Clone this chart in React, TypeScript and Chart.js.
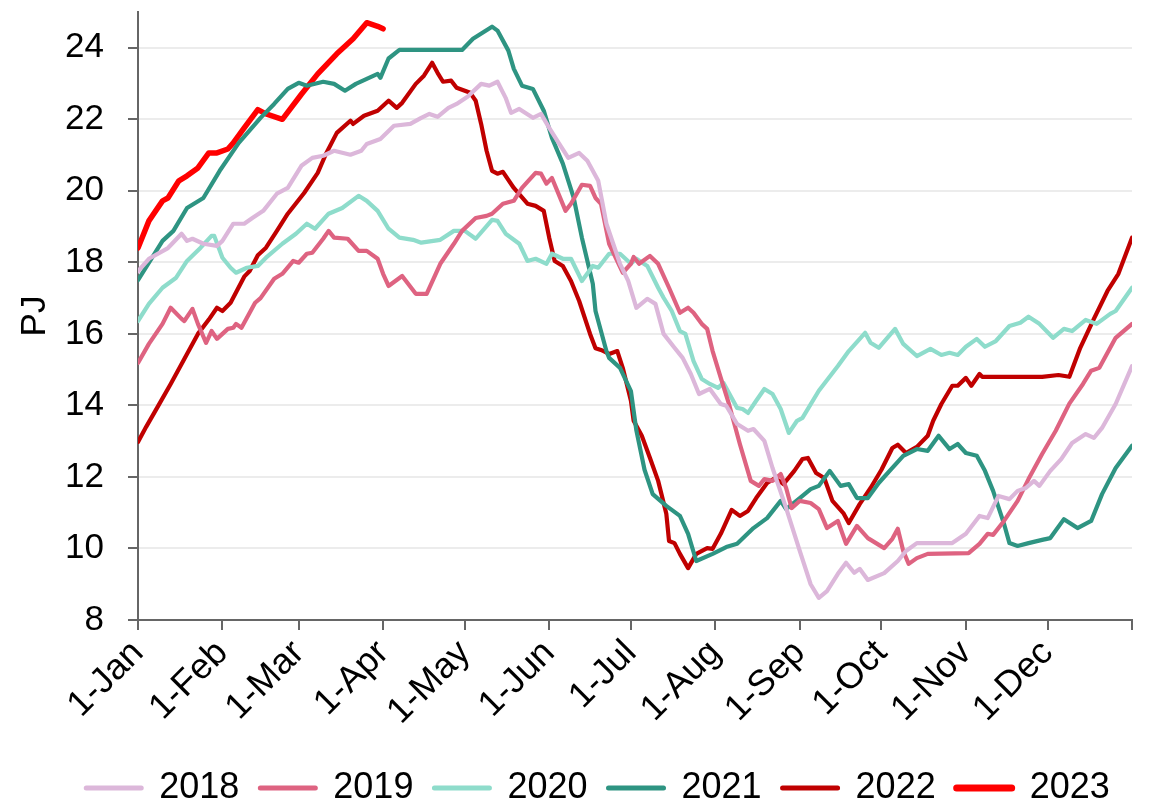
import React, { useEffect, useRef } from 'react';
import { Chart, registerables } from 'chart.js';

Chart.register(...registerables);

const years = ['2018', '2019', '2020', '2021', '2022', '2023'];
const colors = ['#dcb7da', '#de6381', '#8edccb', '#2e9482', '#c00000', '#ff0000'];
const lineWidths = [4.2, 4.2, 4.2, 4.2, 4.2, 5.5];

const monthTicks = [0, 31, 59, 90, 120, 151, 181, 212, 243, 273, 304, 334, 365];
const monthLabels = ['1-Jan', '1-Feb', '1-Mar', '1-Apr', '1-May', '1-Jun', '1-Jul', '1-Aug', '1-Sep', '1-Oct', '1-Nov', '1-Dec', ''];
const yTicks = [8, 10, 12, 14, 16, 18, 20, 22, 24];

const days2018 = [0, 4, 11, 16, 18, 20, 24, 29, 31, 35, 39, 42, 46, 51, 55, 60, 64, 68, 72, 78, 82, 84, 89, 94, 100, 104, 107, 110, 114, 117, 121, 126, 129, 132, 135, 137, 140, 145, 148, 151, 154, 158, 162, 165, 169, 172, 177, 180, 183, 187, 190, 193, 197, 200, 203, 206, 210, 214, 216, 220, 224, 226, 230, 233, 238, 243, 247, 250, 253, 257, 260, 263, 265, 268, 274, 279, 282, 286, 299, 304, 309, 312, 316, 320, 323, 326, 329, 331, 335, 339, 343, 348, 351, 354, 359, 365];
const vals2018 = [17.75, 18.1, 18.4, 18.8, 18.6, 18.66, 18.52, 18.46, 18.6, 19.08, 19.08, 19.24, 19.44, 19.92, 20.08, 20.7, 20.92, 20.98, 21.12, 21.01, 21.12, 21.31, 21.45, 21.82, 21.87, 22.04, 22.15, 22.07, 22.32, 22.43, 22.63, 22.99, 22.94, 23.05, 22.6, 22.18, 22.29, 22.04, 22.15, 21.76, 21.4, 20.92, 21.06, 20.84, 20.28, 19.08, 17.96, 17.48, 16.73, 16.98, 16.84, 16.0, 15.61, 15.33, 14.88, 14.32, 14.46, 14.04, 13.99, 13.48, 13.29, 13.34, 13.01, 12.25, 11.13, 9.93, 9.0, 8.62, 8.81, 9.29, 9.6, 9.32, 9.43, 9.12, 9.31, 9.65, 9.93, 10.15, 10.15, 10.41, 10.91, 10.85, 11.47, 11.38, 11.61, 11.69, 11.89, 11.75, 12.17, 12.5, 12.95, 13.2, 13.09, 13.37, 14.04, 15.1];

const days2019 = [0, 4, 9, 12, 16, 17, 20, 22, 25, 27, 29, 33, 35, 36, 38, 43, 45, 50, 53, 57, 59, 62, 64, 68, 70, 72, 77, 81, 84, 88, 90, 92, 97, 102, 106, 111, 116, 119, 124, 128, 130, 134, 138, 141, 146, 148, 150, 152, 157, 159, 163, 166, 168, 170, 173, 178, 181, 182, 184, 188, 191, 195, 199, 202, 204, 207, 209, 211, 214, 217, 221, 225, 228, 230, 233, 236, 238, 240, 243, 247, 250, 253, 257, 260, 264, 268, 274, 277, 279, 281, 283, 286, 290, 305, 309, 312, 314, 318, 323, 327, 332, 337, 342, 347, 350, 353, 359, 365];
const vals2019 = [15.19, 15.72, 16.28, 16.73, 16.42, 16.36, 16.7, 16.28, 15.75, 16.08, 15.86, 16.14, 16.17, 16.28, 16.17, 16.87, 17.0, 17.54, 17.68, 18.04, 17.99, 18.24, 18.27, 18.66, 18.88, 18.69, 18.66, 18.32, 18.32, 18.1, 17.68, 17.34, 17.62, 17.12, 17.12, 17.96, 18.52, 18.88, 19.24, 19.3, 19.36, 19.64, 19.72, 20.08, 20.5, 20.48, 20.2, 20.36, 19.44, 19.64, 20.17, 20.14, 19.8, 19.64, 18.52, 17.71, 17.96, 18.15, 17.96, 18.18, 17.96, 17.29, 16.59, 16.73, 16.59, 16.28, 16.14, 15.52, 14.77, 14.04, 12.92, 11.89, 11.75, 11.94, 11.89, 12.08, 11.69, 11.13, 11.33, 11.27, 11.1, 10.57, 10.77, 10.13, 10.63, 10.29, 10.01, 10.27, 10.55, 9.93, 9.57, 9.73, 9.85, 9.87, 10.13, 10.41, 10.38, 10.77, 11.33, 11.94, 12.64, 13.29, 14.05, 14.6, 14.97, 15.05, 15.89, 16.28];

const days2020 = [0, 4, 9, 14, 18, 23, 27, 28, 31, 34, 36, 40, 44, 47, 53, 58, 62, 65, 70, 75, 81, 84, 88, 92, 96, 101, 104, 111, 116, 120, 124, 130, 132, 135, 140, 143, 146, 150, 152, 156, 159, 163, 167, 169, 173, 177, 181, 183, 187, 191, 193, 196, 199, 201, 204, 207, 210, 213, 215, 220, 222, 224, 227, 230, 233, 236, 239, 242, 244, 250, 257, 261, 267, 269, 272, 278, 281, 286, 291, 295, 298, 301, 304, 308, 311, 315, 320, 324, 327, 331, 336, 340, 343, 348, 352, 357, 359, 365];
const vals2020 = [16.36, 16.84, 17.29, 17.57, 18.04, 18.41, 18.74, 18.74, 18.13, 17.85, 17.71, 17.85, 17.9, 18.13, 18.52, 18.8, 19.08, 18.94, 19.36, 19.52, 19.86, 19.72, 19.44, 18.94, 18.69, 18.63, 18.55, 18.63, 18.88, 18.88, 18.66, 19.19, 19.16, 18.8, 18.52, 18.04, 18.1, 17.96, 18.24, 18.1, 18.1, 17.48, 17.9, 17.85, 18.24, 18.24, 17.96, 18.1, 17.9, 17.29, 17.01, 16.64, 16.08, 16.0, 15.24, 14.74, 14.6, 14.49, 14.63, 13.93, 13.9, 13.79, 14.13, 14.46, 14.32, 13.9, 13.23, 13.57, 13.65, 14.41, 15.1, 15.52, 16.03, 15.75, 15.61, 16.14, 15.72, 15.38, 15.58, 15.41, 15.47, 15.41, 15.64, 15.86, 15.64, 15.8, 16.22, 16.31, 16.48, 16.28, 15.89, 16.14, 16.08, 16.39, 16.28, 16.56, 16.64, 17.29];

const days2021 = [0, 9, 13, 18, 24, 30, 37, 45, 50, 55, 59, 62, 68, 72, 76, 80, 88, 89, 92, 96, 119, 123, 130, 132, 136, 138, 141, 145, 149, 152, 156, 160, 163, 167, 168, 172, 173, 177, 181, 183, 186, 189, 194, 199, 202, 205, 211, 216, 220, 226, 231, 236, 238, 243, 247, 250, 254, 258, 261, 264, 268, 272, 276, 281, 286, 290, 294, 298, 301, 304, 308, 311, 314, 318, 320, 323, 327, 332, 335, 340, 345, 350, 354, 359, 365];
const vals2021 = [17.5, 18.6, 18.88, 19.52, 19.8, 20.56, 21.34, 22.04, 22.43, 22.85, 23.02, 22.94, 23.05, 22.99, 22.8, 22.99, 23.27, 23.16, 23.7, 23.94, 23.94, 24.25, 24.59, 24.48, 23.92, 23.41, 22.94, 22.85, 22.24, 21.48, 20.76, 19.8, 18.69, 17.4, 16.64, 15.52, 15.33, 15.05, 14.4, 13.3, 12.2, 11.52, 11.19, 10.91, 10.41, 9.65, 9.85, 10.04, 10.13, 10.57, 10.85, 11.33, 11.1, 11.41, 11.66, 11.75, 12.17, 11.75, 11.8, 11.41, 11.41, 11.83, 12.17, 12.59, 12.78, 12.73, 13.15, 12.78, 12.92, 12.67, 12.59, 12.17, 11.61, 10.69, 10.15, 10.07, 10.15, 10.24, 10.29, 10.82, 10.57, 10.77, 11.52, 12.25, 12.87];

const days2022 = [0, 3, 7, 12, 17, 22, 26, 29, 31, 34, 39, 41, 44, 47, 51, 55, 61, 66, 69, 73, 78, 79, 83, 88, 92, 95, 97, 102, 105, 108, 110, 112, 115, 117, 122, 124, 126, 128, 130, 132, 134, 138, 143, 146, 149, 151, 153, 156, 159, 162, 166, 168, 170, 173, 176, 178, 181, 182, 185, 188, 191, 194, 195, 197, 199, 202, 205, 209, 211, 214, 218, 221, 224, 227, 231, 234, 237, 241, 244, 246, 249, 252, 255, 259, 261, 265, 269, 273, 277, 279, 282, 286, 290, 292, 295, 299, 301, 304, 306, 309, 310, 332, 338, 342, 346, 351, 356, 360, 365];
const vals2022 = [12.98, 13.4, 13.93, 14.6, 15.3, 16.0, 16.4, 16.73, 16.64, 16.87, 17.6, 17.76, 18.2, 18.41, 18.88, 19.36, 19.94, 20.5, 21.03, 21.62, 21.96, 21.87, 22.1, 22.24, 22.52, 22.32, 22.46, 22.99, 23.22, 23.58, 23.3, 23.05, 23.08, 22.88, 22.74, 22.52, 21.87, 21.12, 20.56, 20.48, 20.53, 20.08, 19.64, 19.58, 19.44, 18.69, 18.04, 17.9, 17.48, 16.92, 16.0, 15.6, 15.55, 15.44, 15.52, 15.05, 14.13, 13.57, 13.15, 12.53, 11.89, 10.97, 10.21, 10.15, 9.85, 9.45, 9.85, 10.01, 9.99, 10.41, 11.08, 10.91, 11.05, 11.41, 11.83, 11.97, 11.8, 12.17, 12.5, 12.53, 12.11, 11.97, 11.33, 10.99, 10.71, 11.24, 11.69, 12.2, 12.81, 12.9, 12.67, 12.84, 13.15, 13.57, 14.04, 14.55, 14.55, 14.77, 14.55, 14.88, 14.8, 14.8, 14.85, 14.8, 15.61, 16.42, 17.2, 17.68, 18.69];

const days2023 = [0, 4, 9, 11, 15, 18, 22, 26, 29, 33, 35, 39, 44, 47, 53, 60, 66, 73, 79, 84, 88, 90];
const vals2023 = [18.4, 19.16, 19.72, 19.8, 20.28, 20.42, 20.64, 21.06, 21.06, 21.17, 21.34, 21.76, 22.27, 22.15, 22.0, 22.7, 23.27, 23.83, 24.25, 24.7, 24.6, 24.53];

const seriesDays = [days2018, days2019, days2020, days2021, days2022, days2023];
const seriesVals = [vals2018, vals2019, vals2020, vals2021, vals2022, vals2023];

const FONT = "'Liberation Sans', Arial, sans-serif";
const TICK_SIZE = 35;
const LEGEND_SIZE = 36;

export default function App() {
  const canvasRef = useRef<HTMLCanvasElement | null>(null);

  useEffect(() => {
    document.body.style.margin = '0';
    const canvas = canvasRef.current;
    if (!canvas) return;

    const legendShift = {
      id: 'legendShift',
      afterLayout(chart: any) {
        const l = chart.legend;
        if (l) {
          l.top += 12;
          l.bottom += 12;
          l.left += 32;
          l.right += 32;
        }
      },
    };

    const chart = new Chart(canvas, {
      type: 'line',
      data: {
        datasets: years.map((y, i) => ({
          label: y,
          data: seriesDays[i].map((d, j) => ({ x: d, y: seriesVals[i][j] })),
          borderColor: colors[i],
          backgroundColor: colors[i],
          borderWidth: lineWidths[i],
          borderCapStyle: 'round',
          borderJoinStyle: 'round',
          pointRadius: 0,
          tension: 0,
          fill: false,
        })),
      },
      options: {
        animation: false,
        responsive: false,
        devicePixelRatio: 1,
        layout: { padding: { left: 0, right: 18, top: 12, bottom: 0 } },
        font: { family: FONT },
        plugins: {
          tooltip: { enabled: false },
          legend: {
            position: 'bottom',
            labels: {
              font: { family: FONT, size: LEGEND_SIZE },
              color: '#000',
              usePointStyle: true,
              pointStyle: 'line',
              pointStyleWidth: 55,
              padding: 21,
              generateLabels: (c: any) => {
                const items = (Chart.defaults.plugins.legend.labels as any).generateLabels(c);
                return items.map((it: any, i: number) => ({
                  ...it,
                  lineWidth: i === 5 ? 7 : 5,
                  lineCap: 'round',
                  pointStyle: 'line',
                }));
              },
            },
          },
        },
        scales: {
          x: {
            type: 'linear',
            min: 0,
            max: 365,
            afterBuildTicks: (s: any) => {
              s.ticks = monthTicks.map((v) => ({ value: v }));
            },
            afterFit: (s: any) => {
              s.height = 804 - 620 - (LEGEND_SIZE + 21 + 10);
              s.paddingLeft = 0;
              s.paddingRight = 0;
            },
            ticks: {
              autoSkip: false,
              maxRotation: 45,
              minRotation: 45,
              padding: 2,
              color: '#000',
              font: { family: FONT, size: LEGEND_SIZE },
              callback: (_v: any, idx: number) => monthLabels[idx],
            },
            grid: {
              drawOnChartArea: false,
              drawTicks: true,
              tickLength: 10,
              color: '#666',
              lineWidth: 2,
            },
            border: { color: '#666', width: 2 },
          },
          y: {
            min: 8,
            max: 25,
            afterBuildTicks: (s: any) => {
              s.ticks = yTicks.map((v) => ({ value: v }));
            },
            afterFit: (s: any) => {
              s.width = 138;
              s.paddingTop = 0;
              s.paddingBottom = 0;
            },
            ticks: {
              padding: 24,
              color: '#000',
              font: { family: FONT, size: TICK_SIZE },
            },
            grid: {
              color: '#ececec',
              lineWidth: 2,
              drawTicks: true,
              tickLength: 10,
              tickColor: '#666',
              tickWidth: 2,
            },
            border: { color: '#666', width: 2 },
            title: {
              display: true,
              text: 'PJ',
              color: '#000',
              font: { family: FONT, size: TICK_SIZE },
              padding: { top: 14, bottom: 0 },
            },
          },
        },
      },
      plugins: [legendShift],
    } as any);

    return () => {
      chart.destroy();
    };
  }, []);

  return (
    <div style={{ width: 1150, height: 804, position: 'relative' }}>
      <canvas ref={canvasRef} width={1150} height={804} style={{ display: 'block' }} />
    </div>
  );
}
